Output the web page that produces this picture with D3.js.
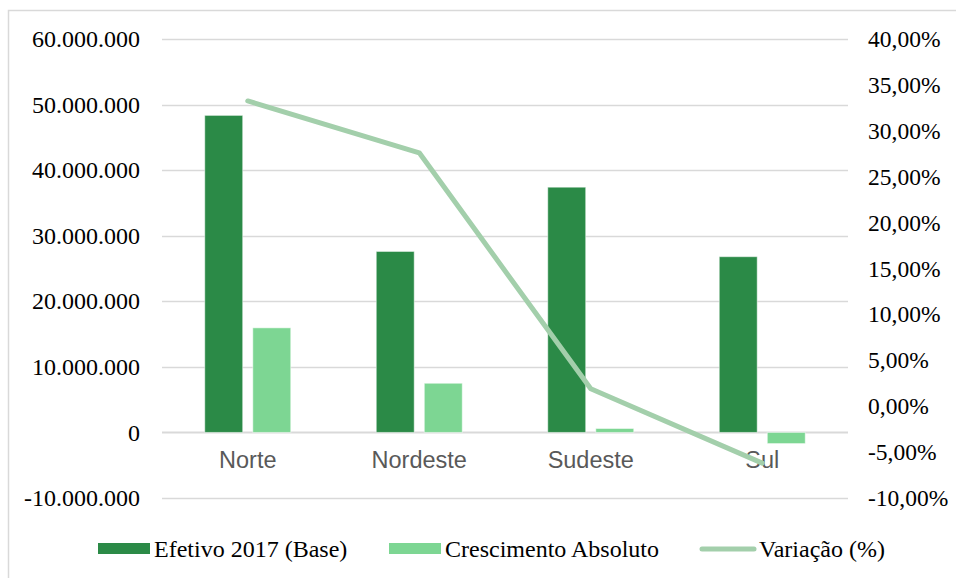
<!DOCTYPE html>
<html>
<head>
<meta charset="utf-8">
<script src="https://cdn.jsdelivr.net/npm/d3@7"></script>
<style>
  body { margin: 0; background: #fff; }
</style>
</head>
<body>
<div id="container"></div>
<script>
const categories = ["Norte", "Nordeste", "Sudeste", "Sul"];
const efetivoBase = [48350000, 27600000, 37400000, 26800000];
const crescimento = [15950000, 7500000, 600000, -1700000];
const variacao = [0.3325, 0.276, 0.019, -0.062];
const leftTicks = [-10000000, 0, 10000000, 20000000, 30000000, 40000000, 50000000, 60000000];
const rightTicks = [-0.10, -0.05, 0, 0.05, 0.10, 0.15, 0.20, 0.25, 0.30, 0.35, 0.40];
const seriesNames = ["Efetivo 2017 (Base)", "Crescimento Absoluto", "Variação (%)"];

function draw() {
    const width = 956;
    const height = 578;

    const plotLeft = 162;
    const plotRight = 848;
    const plotTop = 39;
    const plotBottom = 498;

    const darkGreen = "#2b8a47";
    const lightGreen = "#7dd693";
    const lineGreen = "#a3cfab";
    const gridColor = "#d9d9d9";
    const serif = "Liberation Serif";
    const sans = "Liberation Sans";

    const pt = d3.formatLocale({
        decimal: ",",
        thousands: ".",
        grouping: [3],
        currency: ["R$", ""],
        minus: "-"
    });
    const fmtLeft = pt.format(",.0f");
    const fmtRight = pt.format(".2%");

    const svg = d3.select('#container')
        .append('svg')
        .attr('width', width)
        .attr('height', height)
        .attr('viewBox', `0 0 ${width} ${height}`);

    // chart border (right and bottom sides run off the picture)
    svg.append("rect")
        .attr("x", 8.5)
        .attr("y", 10.5)
        .attr("width", 980)
        .attr("height", 620)
        .attr("fill", "none")
        .attr("stroke", gridColor)
        .attr("stroke-width", 1.5);

    const x = d3.scaleBand()
        .domain(categories)
        .range([plotLeft, plotRight]);

    const xs = d3.scaleBand()
        .domain([0, 1])
        .range([x.bandwidth() / 2 - 43, x.bandwidth() / 2 + 43])
        .paddingInner(0.21);

    const yL = d3.scaleLinear()
        .domain([-10000000, 60000000])
        .range([plotBottom, plotTop]);

    const yR = d3.scaleLinear()
        .domain([-0.10, 0.40])
        .range([plotBottom, plotTop]);

    // gridlines
    svg.append("g")
        .selectAll("line")
        .data(leftTicks)
        .join("line")
        .attr("x1", plotLeft)
        .attr("x2", plotRight)
        .attr("y1", d => Math.round(yL(d)) + 0.5)
        .attr("y2", d => Math.round(yL(d)) + 0.5)
        .attr("stroke", gridColor)
        .attr("stroke-width", d => d === 0 ? 2 : 1.5);

    // left axis
    const axisL = svg.append("g")
        .attr("transform", `translate(${plotLeft - 22},0)`)
        .call(d3.axisLeft(yL).tickValues(leftTicks).tickFormat(fmtLeft).tickSize(0).tickPadding(0))
        .attr("font-family", serif)
        .attr("font-size", 24);
    axisL.select(".domain").remove();
    axisL.selectAll("text").attr("fill", "#000");

    // right axis
    const axisR = svg.append("g")
        .attr("transform", `translate(${plotRight + 20},0)`)
        .call(d3.axisRight(yR).tickValues(rightTicks).tickFormat(fmtRight).tickSize(0).tickPadding(0))
        .attr("font-family", serif)
        .attr("font-size", 23.5);
    axisR.select(".domain").remove();
    axisR.selectAll("text").attr("fill", "#000");

    // bars
    const bars = svg.append("g");
    [efetivoBase, crescimento].forEach((vals, si) => {
        bars.selectAll(null)
            .data(vals)
            .join("rect")
            .attr("x", (d, i) => x(categories[i]) + xs(si))
            .attr("width", xs.bandwidth())
            .attr("y", d => yL(Math.max(0, d)))
            .attr("height", d => Math.abs(yL(d) - yL(0)))
            .attr("fill", si === 0 ? darkGreen : lightGreen)
            .attr("stroke", "#ffffff")
            .attr("stroke-opacity", 0.5)
            .attr("stroke-width", 1);
    });

    // category labels
    svg.append("g")
        .selectAll("text")
        .data(categories)
        .join("text")
        .text(d => d)
        .attr("x", d => x(d) + x.bandwidth() / 2)
        .attr("y", 468)
        .attr("text-anchor", "middle")
        .attr("font-family", sans)
        .attr("font-size", 23.5)
        .attr("fill", "#595959");

    // variation line
    const line = d3.line()
        .x((d, i) => x(categories[i]) + x.bandwidth() / 2)
        .y(d => yR(d));

    svg.append("path")
        .datum(variacao)
        .attr("d", line)
        .attr("fill", "none")
        .attr("stroke", lineGreen)
        .attr("stroke-width", 5)
        .attr("stroke-linejoin", "round")
        .attr("stroke-linecap", "round");

    // legend
    const legend = svg.append("g");
    const legendY = 549;
    const items = [
        { name: seriesNames[0], x: 98, type: "rect", color: darkGreen },
        { name: seriesNames[1], x: 389, type: "rect", color: lightGreen },
        { name: seriesNames[2], x: 699, type: "line", color: lineGreen }
    ];
    items.forEach(it => {
        if (it.type === "rect") {
            legend.append("rect")
                .attr("x", it.x)
                .attr("y", legendY - 6)
                .attr("width", 52)
                .attr("height", 11)
                .attr("fill", it.color);
        } else {
            legend.append("line")
                .attr("x1", it.x + 3)
                .attr("x2", it.x + 55)
                .attr("y1", legendY)
                .attr("y2", legendY)
                .attr("stroke", it.color)
                .attr("stroke-width", 5)
                .attr("stroke-linecap", "round");
        }
        legend.append("text")
            .text(it.name)
            .attr("x", it.type === "line" ? it.x + 60 : it.x + 56)
            .attr("y", legendY + 8)
            .attr("font-family", serif)
            .attr("font-size", 24)
            .attr("fill", "#000");
    });
}

draw();
</script>
</body>
</html>
